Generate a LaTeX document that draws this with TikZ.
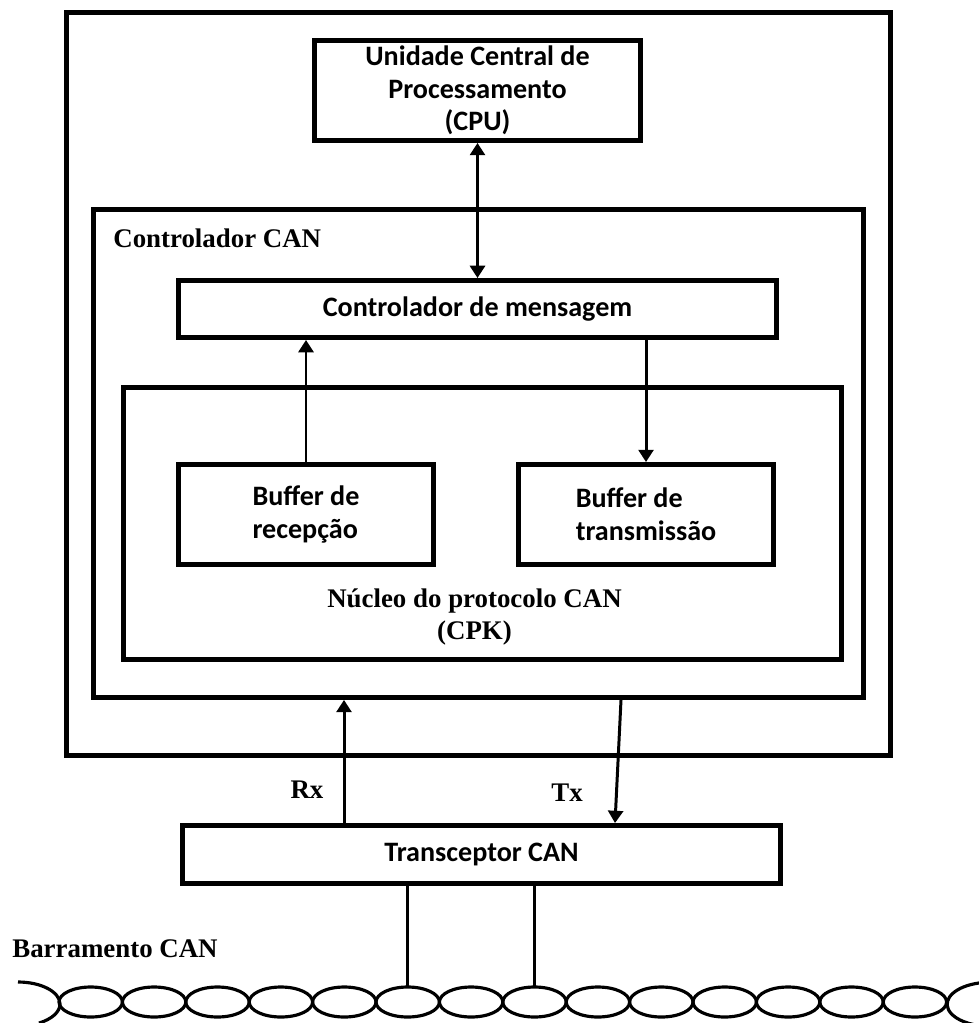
\documentclass[tikz,border=0pt]{standalone}
\usepackage{fontspec}
\setmainfont{Liberation Serif}
\newfontfamily\calibri{Carlito}
\usetikzlibrary{arrows.meta}
\begin{document}
\begin{tikzpicture}[x=.02cm,y=-.02cm,
 caixa/.style={draw,line width=2.8pt,inner sep=0pt,align=center,
  font=\calibri\bfseries\fontsize{16}{18.6}\selectfont},
 rotulo/.style={inner sep=0pt,align=center,
  font=\bfseries\fontsize{15.3}{18.7}\selectfont},
 seta/.style={line width=1.7pt,-{Triangle[length=7pt,width=8.5pt]}},
 setadupla/.style={line width=1.7pt,
  {Triangle[length=7pt,width=8.5pt]}-{Triangle[length=7pt,width=8.5pt]}},
 fio/.style={line width=1.8pt}]
 \useasboundingbox (0,0) rectangle (979,1023);
 % <<< caixas
 \node[caixa,minimum width=16.48cm,minimum height=14.88cm] (ecu) at (478.5,384) {};
 \node[caixa,minimum width=6.52cm,minimum height=2cm] (cpu) at (477.5,90.5)
  {Unidade Central de\\Processamento\\(CPU)};
 \node[caixa,minimum width=15.4cm,minimum height=9.76cm] (ctrl) at (478.5,453.5) {};
 \node[caixa,minimum width=11.96cm,minimum height=1.14cm] (msg) at (477.5,309)
  {Controlador de mensagem};
 \node[caixa,minimum width=14.36cm,minimum height=5.44cm] (cpk) at (482.5,523.5) {};
 \node[caixa,align=left,minimum width=5.1cm,minimum height=2cm] (rec) at (306,514.5)
  {Buffer de\\recepção};
 \node[caixa,align=left,minimum width=5.1cm,minimum height=2cm] (tra) at (646,514.5)
  {Buffer de\\transmissão};
 \node[caixa,minimum width=11.96cm,minimum height=1.16cm] (trc) at (481.5,854.5)
  {Transceptor CAN};
 % <<< rotulos
 \node[rotulo,anchor=base west] (lctrl) at (113,248) {Controlador CAN};
 \node[rotulo] (lcpk) at (474.5,617) {Núcleo do protocolo CAN\\(CPK)};
 \node[rotulo] (lrx) at (307,790) {Rx};
 \node[rotulo] (ltx) at (567,793) {Tx};
 \node[rotulo,anchor=base west] (lbus) at (12,957) {Barramento CAN};
 % <<< setas
 \coordinate (rx) at (344,0);
 \coordinate (txa) at (621,0);
 \coordinate (txb) at (615,0);
 \draw[setadupla] (cpu) -- (msg);
 \draw[seta] (rec.north) -- (rec.north |- msg.south);
 \draw[seta] (msg.south -| tra.north) -- (tra.north);
 \draw[seta] (trc.north -| rx) -- (ctrl.south -| rx);
 \draw[seta] (ctrl.south -| txa) -- (trc.north -| txb);
 % <<< barramento
 \foreach \i in {0,...,13}{
  \draw[fio] ({90.7+63.4*\i},1002) ellipse[x radius=.634cm,y radius=.3cm];
  \coordinate (elo\i) at ({90.7+63.4*\i},987);
 }
 \draw[fio] (18,982) arc[start angle=90,end angle=-60,x radius=.84cm,y radius=.44cm];
 \draw[fio] (979,983) arc[start angle=105,end angle=255,x radius=.86cm,y radius=.44cm];
 \draw[fio] (trc.south -| elo5) -- (elo5);
 \draw[fio] (trc.south -| elo7) -- (elo7);
\end{tikzpicture}
\end{document}
